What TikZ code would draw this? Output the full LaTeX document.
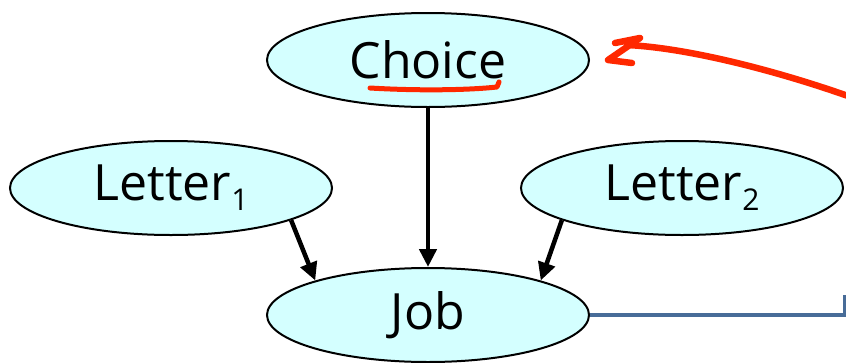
\documentclass[tikz,border=0pt]{standalone}
\usepackage{fontspec}
\setmainfont{Open Sans}
\usepackage{xcolor}
\usetikzlibrary{shapes.geometric,arrows.meta}
\definecolor{varfill}{RGB}{212,255,255}
\definecolor{inkred}{RGB}{255,40,0}
\definecolor{wireblue}{RGB}{72,108,152}
\newcommand{\letteridx}[1]{\raisebox{-10pt}{\fontsize{30}{32}\selectfont#1}}

\begin{document}
\begin{tikzpicture}[x=1pt,y=-1pt,
    var/.style={ellipse,draw,line width=2pt,fill=varfill,minimum width=322pt,minimum height=94pt,inner sep=0pt,font=\fontsize{50}{56}\selectfont},
    edge/.style={line width=4.5pt,-{Triangle[length=18pt,width=17pt]}},
    ink/.style={inkred,line width=6.5pt,line cap=round,line join=round},
    wire/.style={wireblue,line width=4pt}]
\useasboundingbox (0,0) rectangle (846,362);
\node[var] (choice) at (428,60) {\raisebox{-8pt}{Choice}};
\node[var] (l1) at (171,188) {\raisebox{-4pt}{Letter\letteridx{1}}};
\node[var] (l2) at (682,188) {\raisebox{-4pt}{Letter\letteridx{2}}};
\node[var] (job) at (428,315) {\raisebox{-8pt}{Job}};
\draw[edge] (choice) -- (job);
\draw[edge] (l1.-15) -- (job.163);
\draw[edge] (l2.195) -- (job.17);
\coordinate (frame) at (845,318);
\draw[wire] (job.east) -- (job.east -| frame) -- ++(0,-20);
\coordinate (redstart) at (848,96);
\coordinate (redtip) at (627,45);
\draw[ink] (redstart) .. controls (780,72) and (690,48) .. (redtip);
\draw[ink] (615,43) -- (640,38) -- (608,60) -- (632,63);
\draw[ink,line width=5pt] (370,88) .. controls (420,91) and (470,90) .. (497,87) -- (499,82);
\end{tikzpicture}
\end{document}
